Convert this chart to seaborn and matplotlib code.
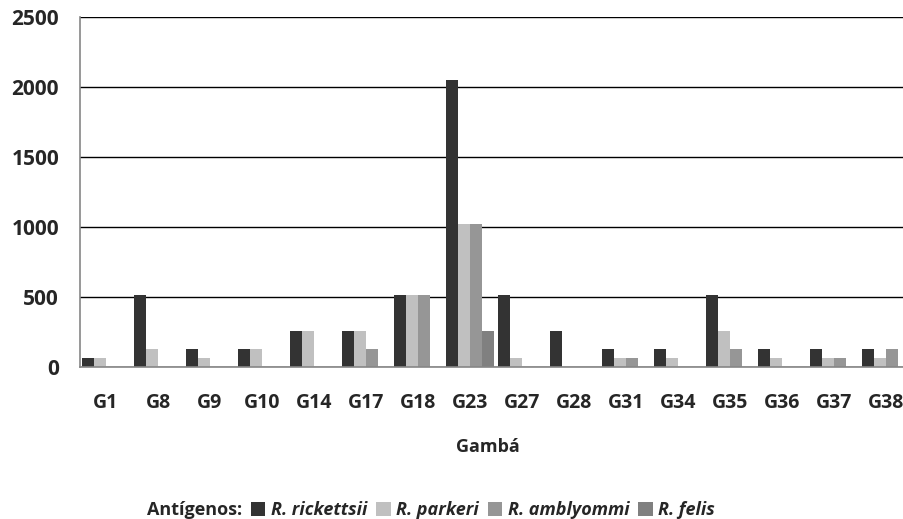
import seaborn as sns
import matplotlib.pyplot as plt
from matplotlib.patches import Patch
import pandas as pd
import numpy as np

# dados
gambas = ['G1', 'G8', 'G9', 'G10', 'G14', 'G17', 'G18', 'G23',
          'G27', 'G28', 'G31', 'G34', 'G35', 'G36', 'G37', 'G38']
antigenos = ['R. rickettsii', 'R. parkeri', 'R. amblyommi', 'R. felis']
rickettsii = [64, 512, 128, 128, 256, 256, 512, 2048, 512, 256, 128, 128, 512, 128, 128, 128]
parkeri = [64, 128, 64, 128, 256, 256, 512, 1024, 64, 0, 64, 64, 256, 64, 64, 64]
amblyommi = [0, 0, 0, 0, 0, 128, 512, 1024, 0, 0, 64, 0, 128, 0, 64, 128]
felis = [0, 0, 0, 0, 0, 0, 0, 256, 0, 0, 0, 0, 0, 0, 0, 0]
cores = ['#333333', '#c0c0c0', '#969696', '#808080']

df = pd.DataFrame({'gamba': gambas * 4,
                   'antigeno': np.repeat(antigenos, len(gambas)),
                   'titulo': rickettsii + parkeri + amblyommi + felis})

sns.set_style('white')
plt.rcParams['font.family'] = ['Open Sans', 'DejaVu Sans']
plt.rcParams['font.weight'] = 'bold'

fig = plt.figure(figsize=(9.04, 5.19), dpi=100)
ax = fig.add_axes([80 / 904, 1 - 367 / 519, 832 / 904, 350 / 519])

sns.barplot(data=df, x='gamba', y='titulo', hue='antigeno', order=gambas,
            hue_order=antigenos, palette=cores, width=0.92, linewidth=0,
            legend=False, ax=ax)

ax.set_ylim(0, 2500)
ax.set_xlim(-0.5, len(gambas) - 0.5)
ax.set_yticks(range(0, 2501, 500))
ax.yaxis.grid(True, color='black', linewidth=1)
ax.set_axisbelow(True)
for s in ['top', 'right']:
    ax.spines[s].set_visible(False)
for s in ['left', 'bottom']:
    ax.spines[s].set_color('#868686')
    ax.spines[s].set_linewidth(1.2)

ax.set_xticks(np.arange(-0.5, len(gambas), 1), minor=True)
ax.tick_params(axis='x', which='major', length=0, pad=19, labelsize=14)
ax.tick_params(axis='x', which='minor', length=6, color='#868686', width=1.2)
ax.tick_params(axis='y', length=6, color='#868686', width=1.2, labelsize=15, pad=9)
for t in ax.get_xticklabels() + ax.get_yticklabels():
    t.set_fontweight('bold')

ax.set_xlabel('')
ax.set_ylabel('')
fig.text(488 / 904, 1 - 447 / 519, 'Gambá', ha='center', va='center',
         fontsize=13, fontweight='bold')

# legenda
handles = [Patch(facecolor='none', edgecolor='none')] + \
          [Patch(facecolor=c, edgecolor='none') for c in cores]
labels = ['Antígenos:'] + antigenos
leg = fig.legend(handles, labels, loc='center', ncol=5,
                 bbox_to_anchor=(421 / 904, 1 - 510 / 519), frameon=False,
                 handlelength=0.8, handleheight=0.8, handletextpad=0.3,
                 columnspacing=0.5, fontsize=13)
for i, t in enumerate(leg.get_texts()):
    t.set_fontweight('bold')
    if i > 0:
        t.set_fontstyle('italic')

plt.savefig('out.png', dpi=100)
